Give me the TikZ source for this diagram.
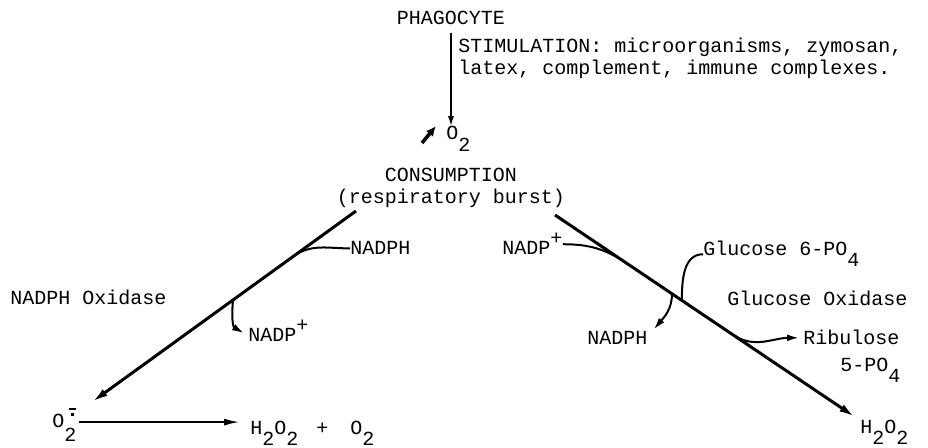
\documentclass[tikz,border=0pt]{standalone}
\usepackage{fontspec}
\setmainfont{Liberation Mono}
\usetikzlibrary{calc,arrows.meta}
\newcommand{\sbs}[1]{\raisebox{-5.5pt}{#1}}
\newcommand{\sps}[1]{\raisebox{5pt}{#1}}
\begin{document}
\begin{tikzpicture}[x=0.5pt,y=-0.5pt,
	lbl/.style={inner sep=0pt, font=\fontsize{10}{11}\selectfont},
	main/.style={line width=1.5pt, -{Latex[length=8pt,width=4pt]}},
	side/.style={line width=1pt},
	sidearr/.style={line width=1pt, -{Latex[length=6pt,width=3.5pt]}}]
	\useasboundingbox (0,0) rectangle (928,448);
	% top of the scheme
	\node[lbl,anchor=base] (phag) at (451,25) {PHAGOCYTE};
	\node[lbl,anchor=north west,align=left] (stim) at (458,38) {STIMULATION: microorganisms, zymosan,\\latex, complement, immune complexes.};
	\node[lbl,anchor=base west] (otwo) at (446,140) {O\raisebox{-6pt}{2}};
	\node[lbl,anchor=north,align=center] (cons) at (451,168) {CONSUMPTION\\(respiratory burst)};
	\draw[line width=0.8pt, -{Latex[length=5pt,width=3pt]}] ([yshift=-3.5pt]phag.south) -- (phag |- otwo.north);
	\draw[line width=1.8pt, -{Latex[length=5pt,width=4.5pt]}] (422,143) -- (436,126);
	% left branch
	\coordinate (ltop) at (356,211);
	\coordinate (lbot) at (92,402);
	\node[lbl,anchor=base west] (oxid) at (10,305) {NADPH Oxidase};
	\node[lbl,anchor=base west] (lnadph) at (350,255) {NADPH};
	\node[lbl,anchor=base west] (lnadp) at (248,342) {NADP\sps{+}};
	\node[lbl,anchor=base west] (supox) at (52,428) {O\makebox[0pt][l]{\hspace{2.2pt}\raisebox{9pt}{\rule{3.4pt}{0.9pt}}}\makebox[0pt][l]{\hspace{3.3pt}\raisebox{6.2pt}{\rule{1.3pt}{1.3pt}}}\raisebox{-7pt}{2}};
	\node[lbl,anchor=base west] (hperl) at (250,435) {H\sbs{2}O\sbs{2}\hspace{9pt}+\hspace{11pt}O\sbs{2}};
	\draw[main] (ltop) -- (lbot);
	\draw[side] (lnadph.west) to[out=180,in=36] ($(ltop)!0.239!(lbot)$);
	\draw[sidearr] ($(ltop)!0.466!(lbot)$) to[out=-95,in=150] ([xshift=-2pt,yshift=-1pt]lnadp.west);
	\draw[line width=1pt, -{Latex[length=8pt,width=3.5pt]}, shorten >=5pt] ([xshift=1pt,yshift=1.5pt]supox.east) -- ([yshift=1.5pt]supox.east -| hperl.west);
	% right branch
	\coordinate (rtop) at (555,215);
	\coordinate (rbot) at (855,417);
	\node[lbl,anchor=base west] (rnadp) at (502,255) {NADP\sps{+}};
	\node[lbl,anchor=base west] (gluc) at (703,256) {Glucose 6-PO\sbs{4}};
	\node[lbl,anchor=base west] (goxid) at (727,306) {Glucose Oxidase};
	\node[lbl,anchor=base west] (rnadph) at (587,345) {NADPH};
	\node[lbl,anchor=base west] (ribu) at (803,345) {Ribulose};
	\node[lbl,anchor=base west] (ribub) at (840,372) {5-PO\sbs{4}};
	\node[lbl,anchor=base west] (hperr) at (860,434) {H\sbs{2}O\sbs{2}};
	\draw[main] (rtop) -- (rbot);
	\draw[side] (rnadp.east) to[out=0,in=146] ($(rtop)!0.24!(rbot)$);
	\draw[side] (gluc.west) to[out=180,in=90] ($(rtop)!0.423!(rbot)$);
	\draw[sidearr] ($(rtop)!0.39!(rbot)$) to[out=-90,in=50] ([xshift=3pt,yshift=1pt]rnadph.north east);
	\draw[sidearr] ($(rtop)!0.593!(rbot)$) to[out=-34,in=180] ([xshift=-2pt]ribu.west);
\end{tikzpicture}
\end{document}
